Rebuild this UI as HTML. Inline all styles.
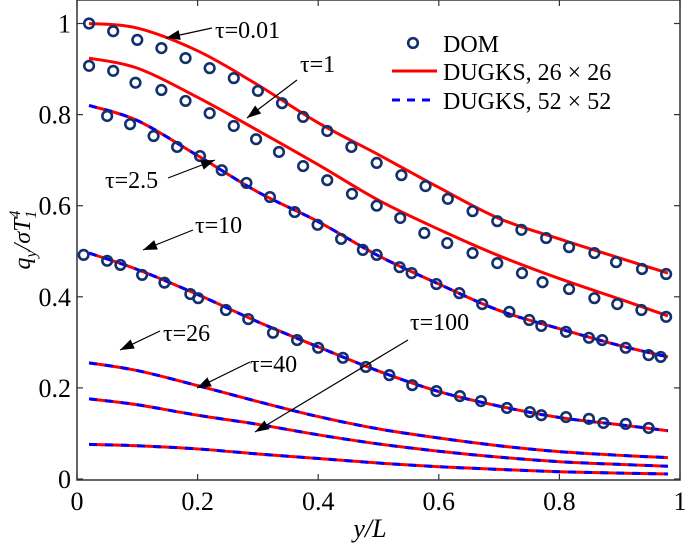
<!DOCTYPE html>
<html><head><meta charset="utf-8"><style>
html,body{margin:0;padding:0;background:#fff}
svg{display:block}
text,tspan{font-family:"Liberation Serif","DejaVu Serif","Noto Serif CJK SC",serif !important;fill:#000}
</style></head><body>
<div style="position:relative;width:685px;height:544px">
<svg id="chart" width="685" height="544" viewBox="0 0 685 544" xmlns="http://www.w3.org/2000/svg" style="position:absolute;left:0;top:0">
<g id="marks"></g>
<g id="axes"></g>
<g id="annot" stroke="#000" stroke-width="1.2" fill="none"></g>
<g>
<circle cx="413" cy="43" r="4.8" fill="none" stroke="#13306e" stroke-width="2.6"/>
<text x="443" y="52" font-size="24">DOM</text>
<line x1="392" y1="71" x2="437" y2="71" stroke="#f00" stroke-width="3"/>
<text x="443" y="80" font-size="24">DUGKS, 26 × 26</text>
<line x1="392" y1="100" x2="437" y2="100" stroke="#00f" stroke-width="3" stroke-dasharray="8 7"/>
<text x="443" y="109" font-size="24">DUGKS, 52 × 52</text>
</g>
<text transform="translate(30,240) rotate(-90)" text-anchor="middle" font-size="24" font-style="italic">q<tspan font-size="16" dy="6">y</tspan><tspan dy="-6">/σT</tspan><tspan font-size="16" dy="6">1</tspan><tspan font-size="16" dx="-8" dy="-16">4</tspan></text>
<text x="370" y="537" text-anchor="middle" font-size="26" font-style="italic">y/L</text>
</svg>
</div>
<script>
const lineX = [0.02,0.1,0.2,0.3,0.4,0.5,0.6,0.7,0.8,0.9,0.98];
const tauLabels = ["0.01","1","2.5","10","26","40","100"];
const line001 = [1.0,0.99,0.94,0.865,0.782,0.712,0.64,0.572,0.527,0.485,0.452];
const line1   = [0.924,0.902,0.838,0.765,0.69,0.612,0.548,0.49,0.44,0.395,0.358];
const line25  = [0.82,0.787,0.71,0.63,0.565,0.49,0.428,0.37,0.33,0.293,0.268];
const line10  = [0.496,0.46,0.405,0.345,0.29,0.237,0.192,0.16,0.135,0.119,0.106];
const line26  = [0.255,0.238,0.205,0.17,0.137,0.11,0.09,0.073,0.06,0.052,0.047];
const line40  = [0.176,0.163,0.14,0.12,0.097,0.077,0.061,0.048,0.038,0.032,0.028];
const line100 = [0.076,0.073,0.066,0.055,0.045,0.035,0.027,0.021,0.016,0.013,0.011];
const domX001 = [0.02,0.06,0.10,0.14,0.18,0.22,0.26,0.30,0.34,0.375,0.415,0.455,0.497,0.538,0.578,0.615,0.656,0.697,0.737,0.778,0.816,0.858,0.894,0.937,0.977];
const dom001  = [1.0,0.983,0.964,0.946,0.924,0.902,0.88,0.852,0.825,0.795,0.764,0.729,0.694,0.667,0.643,0.615,0.588,0.566,0.547,0.529,0.509,0.496,0.476,0.461,0.45];
const domX1 = [0.02,0.06,0.097,0.14,0.18,0.22,0.26,0.297,0.335,0.375,0.415,0.456,0.497,0.536,0.576,0.614,0.656,0.697,0.738,0.772,0.816,0.858,0.896,0.936,0.977];
const dom1  = [0.907,0.896,0.87,0.854,0.83,0.803,0.775,0.746,0.718,0.687,0.656,0.626,0.6,0.573,0.54,0.518,0.496,0.474,0.452,0.432,0.417,0.397,0.384,0.371,0.356];
const domX25 = [0.05,0.088,0.127,0.166,0.204,0.24,0.281,0.32,0.361,0.399,0.438,0.474,0.497,0.535,0.555,0.596,0.634,0.672,0.717,0.75,0.77,0.811,0.849,0.871,0.91,0.948,0.968];
const dom25  = [0.797,0.779,0.753,0.729,0.709,0.678,0.65,0.619,0.586,0.558,0.527,0.503,0.492,0.465,0.452,0.428,0.408,0.384,0.367,0.349,0.336,0.323,0.31,0.305,0.288,0.272,0.268];
const domX10 = [0.011,0.05,0.072,0.108,0.145,0.188,0.201,0.247,0.284,0.325,0.365,0.4,0.441,0.479,0.518,0.556,0.596,0.635,0.67,0.713,0.751,0.77,0.811,0.849,0.873,0.91,0.948];
const dom10  = [0.492,0.479,0.47,0.448,0.431,0.406,0.397,0.371,0.351,0.321,0.305,0.288,0.266,0.246,0.228,0.206,0.193,0.182,0.171,0.156,0.147,0.14,0.136,0.132,0.123,0.121,0.112];
const xTicks = [0,0.2,0.4,0.6,0.8,1];
const xTickLabels = ["0","0.2","0.4","0.6","0.8","1"];
const yTicks = [0,0.2,0.4,0.6,0.8,1];
const yTickLabels = ["0","0.2","0.4","0.6","0.8","1"];

const X0=77, X1=680, Y0=480, YTOP=0;
const xs = v => X0 + (X1-X0)*v;
const ys = v => 479 - 455.5*v;
const NS="http://www.w3.org/2000/svg";
const marks=document.getElementById('marks'), axes=document.getElementById('axes'), annot=document.getElementById('annot');
function mk(tag, attrs, parent){const e=document.createElementNS(NS,tag);for(const k in attrs)e.setAttribute(k,attrs[k]);parent.appendChild(e);return e;}
function pathFor(xv, yv){
  const p=xv.map((x,i)=>[xs(x),ys(yv[i])]);
  let d=`M${p[0][0]},${p[0][1]}`;
  for(let i=0;i<p.length-1;i++){
    const p0=p[Math.max(0,i-1)],p1=p[i],p2=p[i+1],p3=p[Math.min(p.length-1,i+2)];
    const c1=[p1[0]+(p2[0]-p0[0])/6,p1[1]+(p2[1]-p0[1])/6];
    const c2=[p2[0]-(p3[0]-p1[0])/6,p2[1]-(p3[1]-p1[1])/6];
    d+=` C${c1[0]},${c1[1]} ${c2[0]},${c2[1]} ${p2[0]},${p2[1]}`;
  }
  return d;
}
const series=[[line001,false,'tau-0.01'],[line1,false,'tau-1'],[line25,true,'tau-2.5'],[line10,true,'tau-10'],[line26,true,'tau-26'],[line40,true,'tau-40'],[line100,true,'tau-100']];
series.forEach(([vals,dashed,nm])=>{
  const d=pathFor(lineX,vals);
  const r=mk('path',{d:d,stroke:'#f00','stroke-width':3,fill:'none'},marks);
  
  
  if(dashed){
    const b=mk('path',{d:d,stroke:'#00f','stroke-width':3,fill:'none','stroke-dasharray':'8 8'},marks);
    
    
  }
});
[[domX001,dom001,'tau-0.01'],[domX1,dom1,'tau-1'],[domX25,dom25,'tau-2.5'],[domX10,dom10,'tau-10']].forEach(([xv,yv,nm])=>{
  xv.forEach((x,i)=>{
    const c=mk('circle',{cx:xs(x),cy:ys(yv[i]),r:4.8,fill:'none',stroke:'#13306e','stroke-width':2.6},marks);
    
    
  });
});
const fr=mk('rect',{x:X0,y:YTOP,width:X1-X0,height:Y0-YTOP,fill:'none',stroke:'#333','stroke-width':1.5},axes);


xTicks.forEach((t,i)=>{
  const x=xs(t);
  mk('line',{x1:x,y1:Y0,x2:x,y2:Y0-6,stroke:'#333','stroke-width':1.2},axes);
  mk('line',{x1:x,y1:YTOP,x2:x,y2:YTOP+6,stroke:'#333','stroke-width':1.2},axes);
  const tx=mk('text',{x:x,y:510,'font-size':26,'text-anchor':'middle'},axes);
  tx.textContent=xTickLabels[i];
  
  
});
yTicks.forEach((t,i)=>{
  const y=ys(t);
  mk('line',{x1:X0,y1:y,x2:X0+6,y2:y,stroke:'#333','stroke-width':1.2},axes);
  mk('line',{x1:X1,y1:y,x2:X1-6,y2:y,stroke:'#333','stroke-width':1.2},axes);
  const tx=mk('text',{x:71,y:y+9,'font-size':26,'text-anchor':'end'},axes);
  tx.textContent=yTickLabels[i];
  
  
});
const ann=[[0,215,38,212,28,166,38],[1,300,72,297,80,247,118],[2,105,188,168,178,215,160],[3,195,233,193,230,143,250],[4,163,341,160,331,120,350],[5,250,372,250,362,197,388],[6,410,330,408,340,255,432]];
ann.forEach(a=>{
  const [li,tx,ty,x1,y1,x2,y2]=a;
  const t=mk('text',{x:tx,y:ty,'font-size':24,stroke:'none',fill:'#000'},annot);
  t.textContent='τ='+tauLabels[li];
  
  
  mk('line',{x1:x1,y1:y1,x2:x2,y2:y2},annot);
  const ang=Math.atan2(y2-y1,x2-x1),L=14,W=5;
  const bx=x2-L*Math.cos(ang),by=y2-L*Math.sin(ang);
  const px=-Math.sin(ang)*W,py=Math.cos(ang)*W;
  mk('polygon',{points:`${x2},${y2} ${bx+px},${by+py} ${bx-px},${by-py}`,fill:'#000',stroke:'none'},annot);
});
</script>
</body></html>
